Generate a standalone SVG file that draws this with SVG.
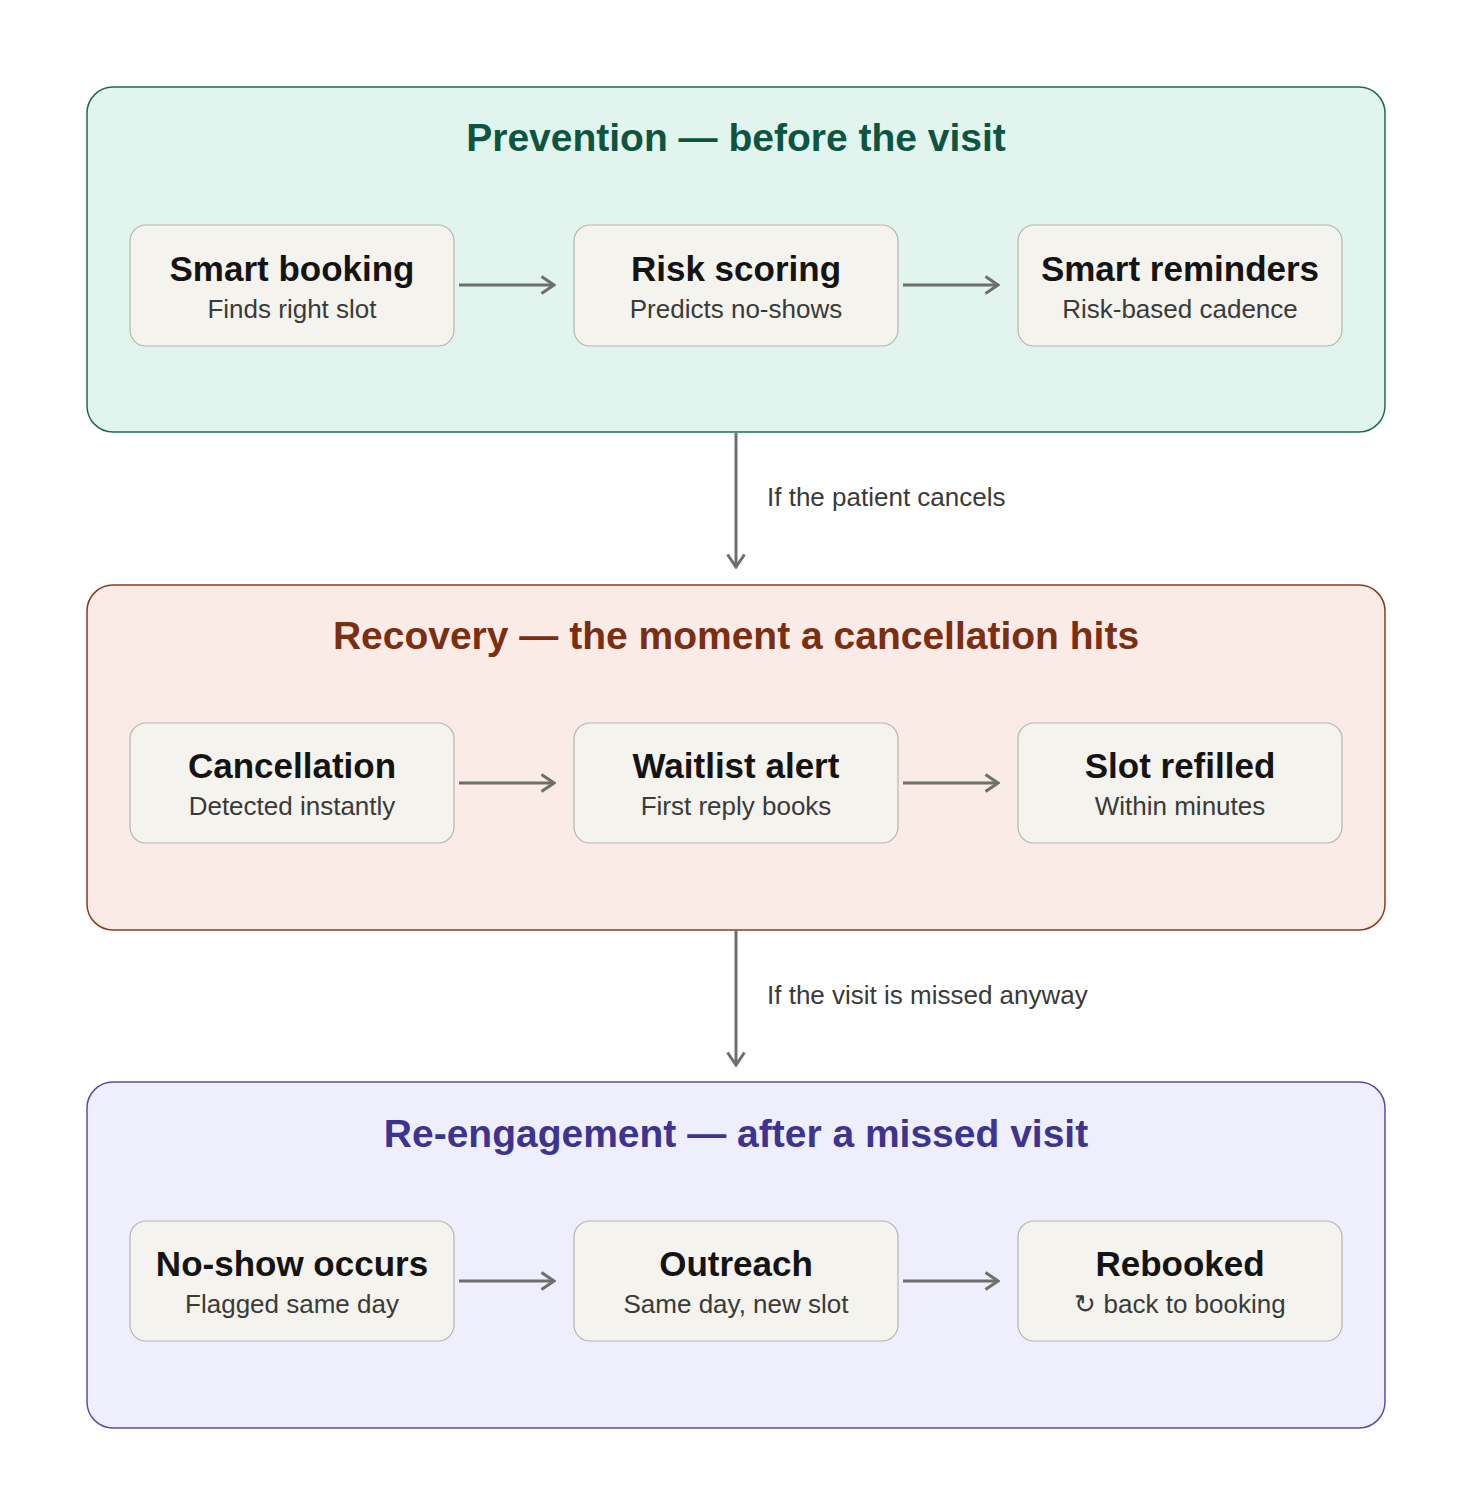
<svg xmlns="http://www.w3.org/2000/svg" width="1472" height="1493" viewBox="0 0 1472 1493">
<style>
text{font-family:"Liberation Sans",Arial,sans-serif;text-anchor:middle}
.gt{font-size:39px;font-weight:bold}
.nt{font-size:35px;font-weight:bold;fill:#141414}
.ns{font-size:26px;fill:#3a3a38}
.node{fill:#f4f3ee;stroke:#b5b5ad;stroke-width:1.2}
.conn{stroke:#6e6e6a;stroke-width:3;fill:none}
.lbl{font-size:26px;fill:#3a3a38;text-anchor:start}
</style>
<defs>
<marker id="ah" viewBox="0 0 16 20" refX="14" refY="10" markerWidth="16" markerHeight="20" markerUnits="userSpaceOnUse" orient="auto">
<path d="M1.5,1.5 L14,10 L1.5,18.5" fill="none" stroke="#6e6e6a" stroke-width="3"/>
</marker>
</defs>
<rect width="1472" height="1493" fill="#ffffff"/>
<g id="group-prevention">
<rect x="87" y="87" width="1298" height="345" rx="26" fill="#e1f4ee" stroke="#1f6b52" stroke-width="1.5"/>
<text class="gt" x="736" y="151" fill="#0d5540">Prevention — before the visit</text>
</g>
<g id="group-recovery">
<rect x="87" y="585" width="1298" height="345" rx="26" fill="#fbebe6" stroke="#8a3a1c" stroke-width="1.5"/>
<text class="gt" x="736" y="649" fill="#7a2e12">Recovery — the moment a cancellation hits</text>
</g>
<g id="group-reengagement">
<rect x="87" y="1082" width="1298" height="346" rx="26" fill="#efeefc" stroke="#5b4fa0" stroke-width="1.5"/>
<text class="gt" x="736" y="1147" fill="#3c3490">Re-engagement — after a missed visit</text>
</g>
<g id="smart-booking"><rect class="node" x="130" y="225" width="324" height="121" rx="16"/><text class="nt" x="292" y="281">Smart booking</text><text class="ns" x="292" y="318">Finds right slot</text></g>
<g id="risk-scoring"><rect class="node" x="574" y="225" width="324" height="121" rx="16"/><text class="nt" x="736" y="281">Risk scoring</text><text class="ns" x="736" y="318">Predicts no-shows</text></g>
<g id="smart-reminders"><rect class="node" x="1018" y="225" width="324" height="121" rx="16"/><text class="nt" x="1180" y="281">Smart reminders</text><text class="ns" x="1180" y="318">Risk-based cadence</text></g>
<g id="cancellation"><rect class="node" x="130" y="723" width="324" height="120" rx="16"/><text class="nt" x="292" y="778">Cancellation</text><text class="ns" x="292" y="815">Detected instantly</text></g>
<g id="waitlist-alert"><rect class="node" x="574" y="723" width="324" height="120" rx="16"/><text class="nt" x="736" y="778">Waitlist alert</text><text class="ns" x="736" y="815">First reply books</text></g>
<g id="slot-refilled"><rect class="node" x="1018" y="723" width="324" height="120" rx="16"/><text class="nt" x="1180" y="778">Slot refilled</text><text class="ns" x="1180" y="815">Within minutes</text></g>
<g id="no-show"><rect class="node" x="130" y="1221" width="324" height="120" rx="16"/><text class="nt" x="292" y="1276">No-show occurs</text><text class="ns" x="292" y="1313">Flagged same day</text></g>
<g id="outreach"><rect class="node" x="574" y="1221" width="324" height="120" rx="16"/><text class="nt" x="736" y="1276">Outreach</text><text class="ns" x="736" y="1313">Same day, new slot</text></g>
<g id="rebooked"><rect class="node" x="1018" y="1221" width="324" height="120" rx="16"/><text class="nt" x="1180" y="1276">Rebooked</text><text class="ns" x="1180" y="1313">↻ back to booking</text></g>
<g id="connectors">
<line class="conn" x1="459" y1="285" x2="554" y2="285" marker-end="url(#ah)"/>
<line class="conn" x1="903" y1="285" x2="998" y2="285" marker-end="url(#ah)"/>
<line class="conn" x1="459" y1="783" x2="554" y2="783" marker-end="url(#ah)"/>
<line class="conn" x1="903" y1="783" x2="998" y2="783" marker-end="url(#ah)"/>
<line class="conn" x1="459" y1="1281" x2="554" y2="1281" marker-end="url(#ah)"/>
<line class="conn" x1="903" y1="1281" x2="998" y2="1281" marker-end="url(#ah)"/>
<line class="conn" x1="736" y1="433" x2="736" y2="567" marker-end="url(#ah)"/>
<text class="lbl" x="767" y="506">If the patient cancels</text>
<line class="conn" x1="736" y1="931" x2="736" y2="1065" marker-end="url(#ah)"/>
<text class="lbl" x="767" y="1004">If the visit is missed anyway</text>
</g>
</svg>
